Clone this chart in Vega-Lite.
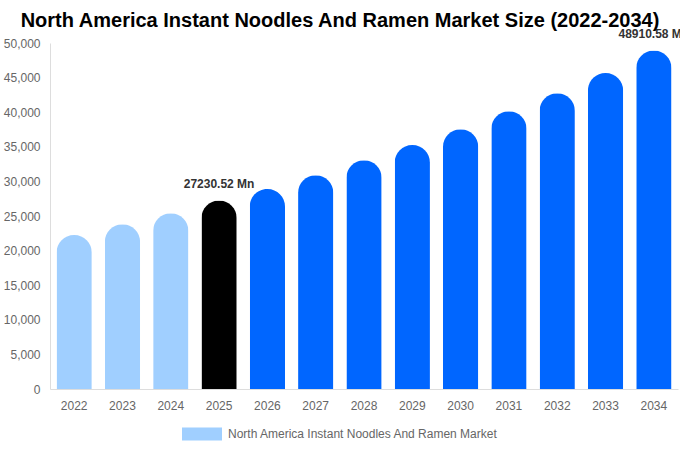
{
  "$schema": "https://vega.github.io/schema/vega-lite/v6.json",
  "autosize": {"type": "none"},
  "padding": {"left": 50, "top": 43, "right": 2, "bottom": 61},
  "width": 628,
  "height": 346,
  "background": "white",
  "title": {
    "text": "North America Instant Noodles And Ramen Market Size (2022-2034)",
    "font": "Liberation Sans",
    "fontSize": 20,
    "fontWeight": "bold",
    "color": "#000000",
    "anchor": "middle",
    "dx": -24,
    "offset": -3
  },
  "data": {
    "values": [
      {"year": "2022", "value": 22250, "phase": "Historical"},
      {"year": "2023", "value": 23800, "phase": "Historical"},
      {"year": "2024", "value": 25400, "phase": "Historical"},
      {"year": "2025", "value": 27230.52, "phase": "Current"},
      {"year": "2026", "value": 28900, "phase": "Forecast"},
      {"year": "2027", "value": 30900, "phase": "Forecast"},
      {"year": "2028", "value": 33050, "phase": "Forecast"},
      {"year": "2029", "value": 35250, "phase": "Forecast"},
      {"year": "2030", "value": 37550, "phase": "Forecast"},
      {"year": "2031", "value": 40150, "phase": "Forecast"},
      {"year": "2032", "value": 42750, "phase": "Forecast"},
      {"year": "2033", "value": 45650, "phase": "Forecast"},
      {"year": "2034", "value": 48910.58, "phase": "Forecast"}
    ]
  },
  "encoding": {
    "x": {
      "field": "year",
      "type": "nominal",
      "title": null,
      "scale": {"paddingInner": 0.27, "paddingOuter": 0.135},
      "axis": {
        "labelAngle": 0,
        "ticks": false,
        "domainColor": "#dddddd",
        "labelColor": "#666666",
        "labelFont": "Liberation Sans",
        "labelFontSize": 12,
        "labelPadding": 11
      }
    },
    "y": {
      "field": "value",
      "type": "quantitative",
      "title": null,
      "scale": {"domain": [0, 50000]},
      "axis": {
        "values": [0, 5000, 10000, 15000, 20000, 25000, 30000, 35000, 40000, 45000, 50000],
        "format": ",d",
        "grid": false,
        "ticks": false,
        "domainColor": "#dddddd",
        "labelColor": "#666666",
        "labelFont": "Liberation Sans",
        "labelFontSize": 12,
        "labelPadding": 10
      }
    }
  },
  "layer": [
    {
      "mark": {"type": "bar", "cornerRadiusTopLeft": 17.5, "cornerRadiusTopRight": 17.5},
      "encoding": {
        "color": {
          "field": "phase",
          "type": "nominal",
          "scale": {
            "domain": ["Historical", "Current", "Forecast"],
            "range": ["#a0cfff", "#000000", "#0066ff"]
          },
          "legend": {
            "values": ["Historical"],
            "labelExpr": "'North America Instant Noodles And Ramen Market'",
            "title": null,
            "orient": "none",
            "legendX": 132,
            "legendY": 371,
            "symbolType": "M-1,-0.325H1V0.325H-1Z",
            "symbolSize": 1600,
            "symbolStrokeWidth": 0,
            "labelFont": "Liberation Sans",
            "labelFontSize": 12,
            "labelColor": "#666666",
            "labelLimit": 400,
            "labelOffset": 6
          }
        }
      }
    },
    {
      "transform": [
        {"filter": "datum.year == '2025' || datum.year == '2034'"},
        {"calculate": "datum.value + ' Mn'", "as": "label"}
      ],
      "mark": {
        "type": "text",
        "font": "Liberation Sans",
        "fontSize": 12,
        "fontWeight": "bold",
        "color": "#333333",
        "baseline": "bottom",
        "dy": -10
      },
      "encoding": {
        "text": {"field": "label"}
      }
    }
  ],
  "config": {
    "view": {"stroke": null}
  }
}
